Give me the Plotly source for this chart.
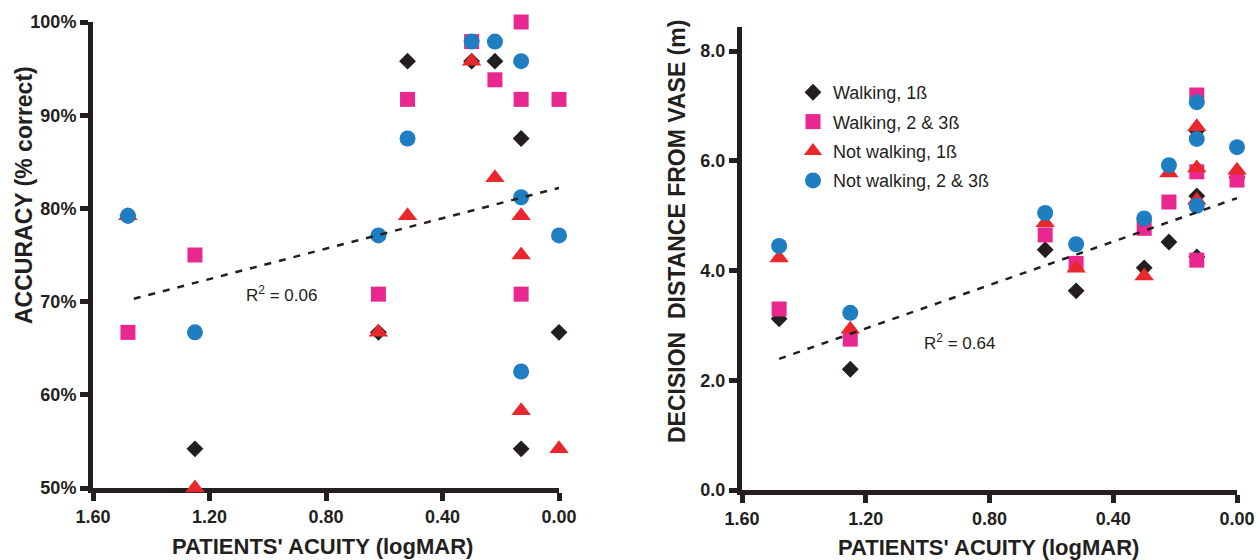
import plotly.graph_objects as go

# ---------------- data ----------------
series_names = ["Walking, 1ß", "Walking, 2 & 3ß", "Not walking, 1ß", "Not walking, 2 & 3ß"]

# Left panel: accuracy (% correct) vs acuity (logMAR)
acc_walk1_x = [1.48, 1.25, 0.62, 0.52, 0.30, 0.22, 0.13, 0.13, 0.00]
acc_walk1_y = [79.2, 54.2, 66.7, 95.8, 95.8, 95.8, 87.5, 54.2, 66.7]
acc_walk23_x = [1.48, 1.25, 0.62, 0.52, 0.30, 0.22, 0.13, 0.13, 0.13, 0.00]
acc_walk23_y = [66.7, 75.0, 70.8, 91.7, 97.9, 93.8, 100.0, 91.7, 70.8, 91.7]
acc_nwalk1_x = [1.48, 1.25, 0.62, 0.52, 0.30, 0.22, 0.13, 0.13, 0.13, 0.00]
acc_nwalk1_y = [79.2, 50.0, 66.7, 79.2, 95.8, 83.3, 79.2, 75.0, 58.3, 54.2]
acc_nwalk23_x = [1.48, 1.25, 0.62, 0.52, 0.30, 0.22, 0.13, 0.13, 0.13, 0.00]
acc_nwalk23_y = [79.2, 66.7, 77.1, 87.5, 97.9, 97.9, 95.8, 81.2, 62.5, 77.1]
acc_trend_x = [1.46, 0.00]
acc_trend_y = [70.3, 82.2]

# Right panel: decision distance (m) vs acuity (logMAR)
dist_walk1_x = [1.48, 1.25, 0.62, 0.52, 0.30, 0.22, 0.13, 0.13, 0.13, 0.00]
dist_walk1_y = [3.12, 2.20, 4.38, 3.63, 4.05, 4.52, 6.55, 5.36, 4.25, 5.70]
dist_walk23_x = [1.48, 1.25, 0.62, 0.52, 0.30, 0.22, 0.13, 0.13, 0.13, 0.00]
dist_walk23_y = [3.30, 2.75, 4.65, 4.13, 4.77, 5.25, 7.20, 5.80, 4.19, 5.65]
dist_nwalk1_x = [1.48, 1.25, 0.62, 0.52, 0.30, 0.22, 0.13, 0.13, 0.13, 0.00]
dist_nwalk1_y = [4.23, 2.93, 4.87, 4.04, 3.90, 5.78, 6.62, 5.87, 5.28, 5.83]
dist_nwalk23_x = [1.48, 1.25, 0.62, 0.52, 0.30, 0.22, 0.13, 0.13, 0.13, 0.00]
dist_nwalk23_y = [4.45, 3.23, 5.05, 4.48, 4.95, 5.92, 7.07, 6.40, 5.18, 6.25]
dist_trend_x = [1.48, 0.00]
dist_trend_y = [2.39, 5.32]

x_ticks = [1.60, 1.20, 0.80, 0.40, 0.00]
x_tick_labels = ["1.60", "1.20", "0.80", "0.40", "0.00"]
acc_ticks = [50, 60, 70, 80, 90, 100]
acc_tick_labels = ["50%", "60%", "70%", "80%", "90%", "100%"]
dist_ticks = [0, 2, 4, 6, 8]
dist_tick_labels = ["0.0", "2.0", "4.0", "6.0", "8.0"]

# ---------------- styles ----------------
INK = "#231f20"
colors = [INK, "#e8288f", "#e9282d", "#1f7dc2"]
symbols = ["diamond", "square", "triangle-up", "circle"]
sizes = [13, 15, 17, 16]
FONT = "Liberation Sans, Arial, Helvetica, sans-serif"

W, H = 1260, 560

fig = go.Figure()

left_sets = [(acc_walk1_x, acc_walk1_y), (acc_walk23_x, acc_walk23_y),
             (acc_nwalk1_x, acc_nwalk1_y), (acc_nwalk23_x, acc_nwalk23_y)]
right_sets = [(dist_walk1_x, dist_walk1_y), (dist_walk23_x, dist_walk23_y),
              (dist_nwalk1_x, dist_nwalk1_y), (dist_nwalk23_x, dist_nwalk23_y)]

for i, (xs, ys) in enumerate(left_sets):
    fig.add_trace(go.Scatter(
        x=xs, y=ys, mode="markers", name=series_names[i],
        legendgroup=f"g{i}", showlegend=False, cliponaxis=False,
        marker=dict(symbol=symbols[i], size=sizes[i], color=colors[i], line=dict(width=0)),
        xaxis="x", yaxis="y"))

for i, (xs, ys) in enumerate(right_sets):
    fig.add_trace(go.Scatter(
        x=xs, y=ys, mode="markers", name=series_names[i],
        legendgroup=f"g{i}", showlegend=True, cliponaxis=False,
        marker=dict(symbol=symbols[i], size=sizes[i], color=colors[i], line=dict(width=0)),
        xaxis="x2", yaxis="y2"))

trend_line = dict(color=INK, width=2.5, dash="7px,8px")
fig.add_trace(go.Scatter(x=acc_trend_x, y=acc_trend_y, mode="lines", line=trend_line,
                         showlegend=False, hoverinfo="skip", xaxis="x", yaxis="y"))
fig.add_trace(go.Scatter(x=dist_trend_x, y=dist_trend_y, mode="lines", line=trend_line,
                         showlegend=False, hoverinfo="skip", xaxis="x2", yaxis="y2"))

axis_common = dict(
    showline=True, linewidth=5, linecolor=INK, mirror=False,
    ticks="outside", ticklen=8, tickwidth=5, tickcolor=INK,
    showgrid=False, zeroline=False, automargin=False, layer="below traces",
    tickfont=dict(family=FONT, size=18, color=INK, weight="bold"),
)

fig.update_layout(
    width=W, height=H,
    margin=dict(l=0, r=0, t=0, b=0, autoexpand=False),
    paper_bgcolor="white", plot_bgcolor="white",
    font=dict(family=FONT, color=INK),
    showlegend=True,
    legend=dict(
        x=793 / W, y=1 - 74 / H, xanchor="left", yanchor="top",
        bgcolor="rgba(0,0,0,0)", borderwidth=0,
        font=dict(family=FONT, size=18, color=INK),
        itemsizing="trace", tracegroupgap=3,
    ),
    xaxis=dict(axis_common, domain=[93 / W, 559 / W], range=[1.60, 0.00],
               tickvals=x_ticks, ticktext=x_tick_labels, anchor="y"),
    yaxis=dict(axis_common, domain=[72 / H, 538 / H], range=[50, 100],
               tickvals=acc_ticks, ticktext=acc_tick_labels, anchor="x"),
    xaxis2=dict(axis_common, domain=[742 / W, 1237 / W], range=[1.60, 0.00],
                tickvals=x_ticks, ticktext=x_tick_labels, anchor="y2"),
    yaxis2=dict(axis_common, domain=[70 / H, 533 / H], range=[0, 8.44],
                tickvals=dist_ticks, ticktext=dist_tick_labels, anchor="x2"),
)

ytitle_font = dict(family=FONT, size=23, color=INK, weight="bold")
xtitle_font = dict(family=FONT, size=22, color=INK, weight="bold")
annots = [
    dict(text="ACCURACY (% correct)", x=24 / W, y=1 - 195 / H, textangle=-90, font=ytitle_font),
    dict(text="DECISION  DISTANCE FROM VASE (m)", x=677 / W, y=1 - 232 / H, textangle=-90, font=ytitle_font),
    dict(text="PATIENTS' ACUITY (logMAR)", x=322 / W, y=1 - 546 / H, font=xtitle_font),
    dict(text="PATIENTS' ACUITY (logMAR)", x=988 / W, y=1 - 547 / H, font=xtitle_font),
]
for a in annots:
    fig.add_annotation(xref="paper", yref="paper", showarrow=False,
                       xanchor="center", yanchor="middle", **a)

r2_font = dict(family=FONT, size=17, color=INK)
fig.add_annotation(text="R<sup>2</sup> = 0.06", xref="paper", yref="paper",
                   x=244 / W, y=1 - 294 / H, xanchor="left", yanchor="middle",
                   showarrow=False, font=r2_font)
fig.add_annotation(text="R<sup>2</sup> = 0.64", xref="paper", yref="paper",
                   x=922 / W, y=1 - 342 / H, xanchor="left", yanchor="middle",
                   showarrow=False, font=r2_font)

fig.write_html("out.html")
